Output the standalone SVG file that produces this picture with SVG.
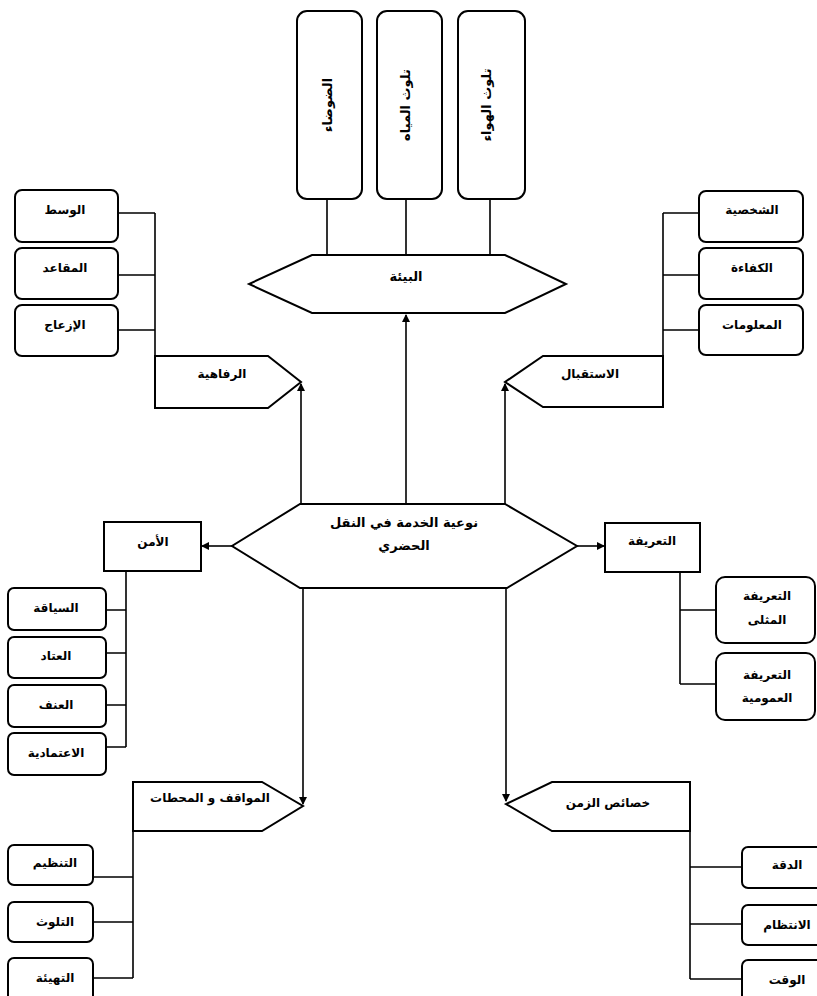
<svg xmlns="http://www.w3.org/2000/svg" width="817" height="996" viewBox="0 0 817 996">
<defs>
<marker id="ah" markerWidth="8" markerHeight="8" refX="7" refY="4" orient="auto" markerUnits="userSpaceOnUse">
<path d="M0,0 L8,4 L0,8 Z" fill="#000"/>
</marker>
<style>
.s{fill:#fff;stroke:#000;stroke-width:2}
.l{fill:none;stroke:#000;stroke-width:1.6}
.a{fill:none;stroke:#000;stroke-width:1.6;marker-end:url(#ah)}
text{font-family:"DejaVu Sans",sans-serif;font-weight:bold;font-size:12px;text-anchor:middle;fill:#000}
.b{font-size:13px}
</style>
</defs>
<rect width="817" height="996" fill="#fff"/>
<g id="connectors">
<path class="l" d="M327,199V255M406,199V255M490,199V255"/>
<path class="a" d="M406,504V315"/>
<path class="a" d="M301,504V384"/>
<path class="a" d="M505,504V384"/>
<path class="a" d="M232,546H202"/>
<path class="a" d="M577,546H604"/>
<path class="a" d="M303,588V804"/>
<path class="a" d="M506,588V801"/>
<path class="l" d="M155,213V408M118,213H155M118,275H155M118,330H155"/>
<path class="l" d="M663,213V407M663,213H699M663,275H699M663,330H699"/>
<path class="l" d="M126,571V747M106,610H126M106,653H126M106,705H126M106,747H126"/>
<path class="l" d="M680,572V684M680,610H716M680,684H716"/>
<path class="l" d="M133,831V978M93,877H133M93,922H133M93,978H133"/>
<path class="l" d="M690,831V979M690,867H742M690,924H742M690,979H742"/>
</g>
<g id="n_noise"><rect class="s" x="297" y="11" width="65" height="188" rx="10"/><text class="b" x="327" y="105" dominant-baseline="central" transform="rotate(-90 327 105)">الضوضاء</text></g>
<g id="n_water"><rect class="s" x="377" y="11" width="65" height="188" rx="10"/><text class="b" x="405" y="105" dominant-baseline="central" transform="rotate(-90 405 105)">تلوث المياه</text></g>
<g id="n_air"><rect class="s" x="458" y="11" width="67" height="188" rx="10"/><text class="b" x="486" y="105" dominant-baseline="central" transform="rotate(-90 486 105)">تلوث الهواء</text></g>
<g id="n_env"><polygon class="s" points="312,255 505,255 566,284 505,313 312,313 249,284"/><text class="b" x="406" y="281">البيئة</text></g>
<g id="n_center"><polygon class="s" points="300,504 505,504 577,546 507,588 300,588 232,546"/><text class="b" x="404" y="527">نوعية الخدمة في النقل</text><text class="b" x="404" y="550">الحضري</text></g>
<g id="n_comfort"><polygon class="s" points="155,356 268,356 301,382 268,408 155,408"/><text x="222" y="378">الرفاهية</text></g>
<g id="n_wasat"><rect class="s" x="15" y="190" width="103" height="52" rx="7"/><text x="65" y="214">الوسط</text></g>
<g id="n_seats"><rect class="s" x="15" y="248" width="103" height="51" rx="7"/><text x="65" y="272">المقاعد</text></g>
<g id="n_noise2"><rect class="s" x="15" y="305" width="103" height="51" rx="7"/><text x="65" y="329">الإزعاج</text></g>
<g id="n_reception"><polygon class="s" points="663,356 543,356 505,382 543,407 663,407"/><text x="590" y="378">الاستقبال</text></g>
<g id="n_person"><rect class="s" x="699" y="191" width="104" height="51" rx="7"/><text x="752" y="214">الشخصية</text></g>
<g id="n_eff"><rect class="s" x="699" y="248" width="104" height="51" rx="7"/><text x="752" y="272">الكفاءة</text></g>
<g id="n_info"><rect class="s" x="699" y="305" width="104" height="50" rx="7"/><text x="752" y="329">المعلومات</text></g>
<g id="n_security"><rect class="s" x="104" y="522" width="97" height="49"/><text x="153" y="546">الأمن</text></g>
<g id="n_driving"><rect class="s" x="8" y="588" width="98" height="42" rx="6"/><text x="56" y="612">السياقة</text></g>
<g id="n_equip"><rect class="s" x="8" y="637" width="98" height="41" rx="6"/><text x="56" y="660">العتاد</text></g>
<g id="n_violence"><rect class="s" x="8" y="685" width="98" height="42" rx="6"/><text x="56" y="709">العنف</text></g>
<g id="n_reliab"><rect class="s" x="8" y="733" width="98" height="42" rx="6"/><text x="56" y="757">الاعتمادية</text></g>
<g id="n_fare"><rect class="s" x="605" y="523" width="95" height="49"/><text x="652" y="545">التعريفة</text></g>
<g id="n_fare_opt"><rect class="s" x="716" y="577" width="99" height="66" rx="9"/><text x="767" y="600">التعريفة</text><text x="767" y="624">المثلى</text></g>
<g id="n_fare_pub"><rect class="s" x="716" y="653" width="99" height="67" rx="9"/><text x="767" y="679">التعريفة</text><text x="767" y="702">العمومية</text></g>
<g id="n_stops"><polygon class="s" points="133,782 262,782 303,806 262,831 133,831"/><text x="210" y="802">المواقف و المحطات</text></g>
<g id="n_org"><rect class="s" x="8" y="845" width="85" height="40" rx="6"/><text x="55" y="867">التنظيم</text></g>
<g id="n_poll"><rect class="s" x="8" y="902" width="85" height="40" rx="6"/><text x="55" y="926">التلوث</text></g>
<g id="n_prep"><rect class="s" x="8" y="958" width="85" height="45" rx="6"/><text x="55" y="982">التهيئة</text></g>
<g id="n_time"><polygon class="s" points="690,782 552,782 506,804 552,831 690,831"/><text x="608" y="807">خصائص الزمن</text></g>
<g id="n_acc"><rect class="s" x="742" y="847" width="85" height="41" rx="6"/><text x="787" y="869">الدقة</text></g>
<g id="n_reg"><rect class="s" x="742" y="905" width="85" height="40" rx="6"/><text x="787" y="929">الانتظام</text></g>
<g id="n_tm"><rect class="s" x="742" y="960" width="85" height="45" rx="6"/><text x="787" y="984">الوقت</text></g>
</svg>
